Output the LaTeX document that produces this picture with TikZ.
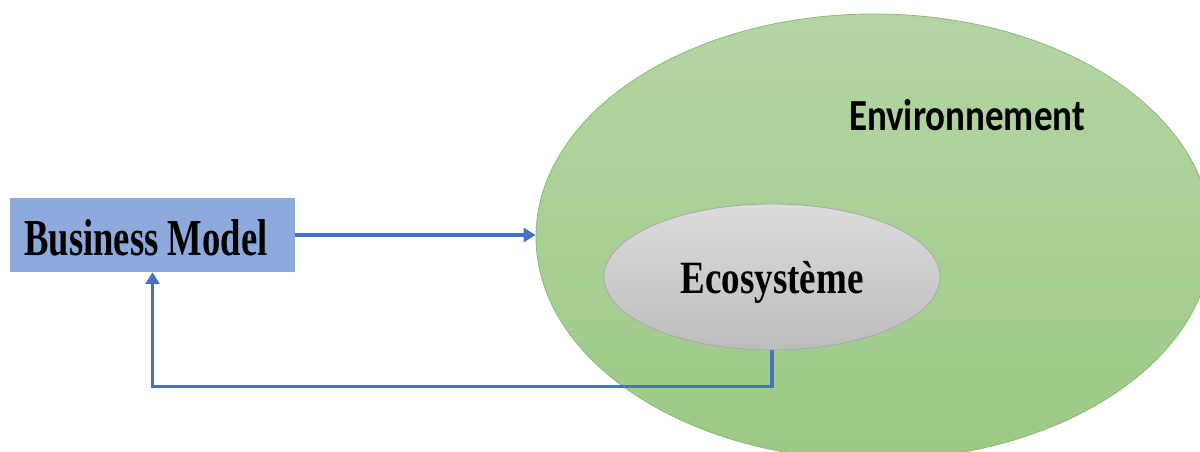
\documentclass[tikz,border=0pt]{standalone}
\usepackage{fontspec}
\setmainfont{Liberation Serif}
\newfontfamily\calib{Carlito}
\usetikzlibrary{shapes.geometric,arrows.meta,calc}
\definecolor{bmblue}{HTML}{8EA9DB}
\definecolor{arrowblue}{HTML}{4472C4}
\definecolor{gtop}{HTML}{B4D5A3}
\definecolor{gbot}{HTML}{9CC985}
\definecolor{gline}{HTML}{8DB77A}
\definecolor{etop}{HTML}{DCDCDC}
\definecolor{ebot}{HTML}{BCBCBC}
\definecolor{eline}{HTML}{A8A8A8}
\tikzset{
  conn/.style={draw=arrowblue, line width=3.5pt, -{Triangle[length=12pt,width=14pt]}},
  bmbox/.style={rectangle, fill=bmblue, minimum width=285pt, minimum height=74pt, inner sep=0pt},
  envell/.style={ellipse, draw=gline, line width=0.8pt, top color=gtop, bottom color=gbot, minimum width=676pt, minimum height=446pt, inner sep=0pt},
  ecoell/.style={ellipse, draw=eline, line width=0.8pt, top color=etop, bottom color=ebot, minimum width=336pt, minimum height=146pt, inner sep=0pt},
  lbl/.style={inner sep=0pt, anchor=base}
}
\begin{document}
\begin{tikzpicture}[x=1pt,y=-1pt]
\useasboundingbox (0,0) rectangle (1200,452);
\node[bmbox] (bm) at (152.5,235) {};
\node[envell] (env) at (874,237) {};
\node[ecoell] (eco) at (772,277) {};
\node[lbl] (bmt) at (146,255) {\fontsize{37}{40}\selectfont\scalebox{0.99}[1.4]{\bfseries Business Model}};
\node[lbl] (envt) at (967,130) {\scalebox{1}[1.2]{\calib\bfseries\fontsize{37}{40}\selectfont Environnement}};
\node[lbl] (ecot) at (772,293) {\fontsize{37}{40}\selectfont\scalebox{1}[1.25]{\bfseries Ecosystème}};
\draw[conn] (bm.east) -- (bm.east -| env.west);
\draw[conn] (eco.south) -- ++(0,36) -| (bm.south);
\end{tikzpicture}
\end{document}
